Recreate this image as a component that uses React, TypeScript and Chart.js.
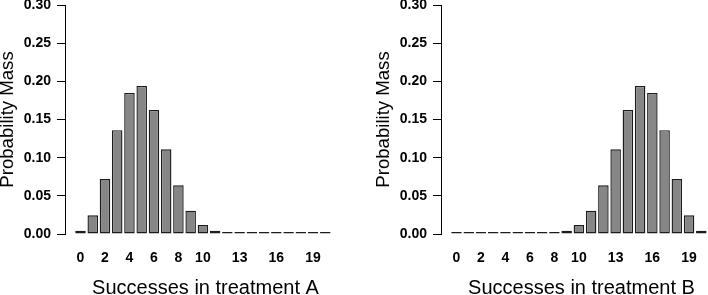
import React, { useEffect, useRef } from "react";
import { Chart, registerables } from "chart.js";

Chart.register(...registerables);

// Number of successes (0..20)
const successes = [0, 1, 2, 3, 4, 5, 6, 7, 8, 9, 10, 11, 12, 13, 14, 15, 16, 17, 18, 19, 20];

// Probability mass, treatment A
const probA = [
  0.0043, 0.0245, 0.072, 0.136, 0.1848, 0.194, 0.1625, 0.111, 0.0638, 0.0305, 0.0118,
  0.0043, 0.0012, 0.0002, 0.0001, 0.0001, 0.0001, 0.0001, 0.0001, 0.0001, 0.0001,
];

// Probability mass, treatment B
const probB = [
  0.0001, 0.0001, 0.0001, 0.0001, 0.0001, 0.0001, 0.0001, 0.0002, 0.0012, 0.0043, 0.0118,
  0.0305, 0.0638, 0.111, 0.1625, 0.194, 0.1848, 0.136, 0.072, 0.0245, 0.0043,
];

const xTickValues = [0, 2, 4, 6, 8, 10, 13, 16, 19];
const yTickValues = [0, 0.05, 0.1, 0.15, 0.2, 0.25, 0.3];

const FONT = "'Liberation Sans', Arial, Helvetica, sans-serif";
const FILL = "#868686";
const EDGE = "#1c1c1c";
const W = 376;
const H = 295;

function Panel({ values, title, left }: { values: number[]; title: string; left: number }) {
  const ref = useRef<HTMLCanvasElement>(null);
  useEffect(() => {
    const chart = new Chart(ref.current as HTMLCanvasElement, {
      type: "bar",
      data: {
        datasets: [
          {
            data: successes.map((s, i) => ({ x: s, y: values[i] })),
            backgroundColor: FILL,
            borderColor: EDGE,
            borderWidth: 1.4,
            borderSkipped: false,
            minBarLength: 2,
            barPercentage: 0.86,
            categoryPercentage: 1,
          } as any,
        ],
      },
      options: {
        animation: false,
        responsive: false,
        maintainAspectRatio: false,
        layout: { padding: { left: 0, right: 30, top: 0, bottom: 0 } },
        plugins: { legend: { display: false }, tooltip: { enabled: false } },
        scales: {
          x: {
            type: "linear",
            offset: false,
            min: -1.266,
            max: 21.69,
            grid: { display: false, drawTicks: false },
            border: { display: false },
            afterBuildTicks: (s: any) => {
              s.ticks = xTickValues.map((v) => ({ value: v }));
            },
            ticks: {
              autoSkip: false,
              maxRotation: 0,
              padding: 16,
              color: "#000",
              font: { family: FONT, size: 14, weight: "bold", lineHeight: 1.2 },
              callback: (v: any) => String(v),
            },
            title: {
              display: true,
              text: title,
              color: "#000",
              font: { family: FONT, size: 20, lineHeight: 0.7 },
              padding: 0,
            },
            afterFit: (s: any) => {
              s.height = 61;
            },
          } as any,
          y: {
            min: 0,
            max: 0.3,
            afterBuildTicks: (s: any) => {
              s.ticks = yTickValues.map((v) => ({ value: v }));
            },
            grid: { drawOnChartArea: false, drawTicks: true, tickLength: 8, color: "#000", lineWidth: 1 },
            border: { display: true, color: "#000", width: 1 },
            ticks: {
              padding: 6,
              color: "#000",
              font: { family: FONT, size: 14, weight: "bold", lineHeight: 0.7 },
              callback: (v: any) => Number(v).toFixed(2),
            },
            title: {
              display: true,
              text: "Probability Mass",
              color: "#000",
              font: { family: FONT, size: 18.6, lineHeight: 0.9 },
              padding: 0,
            },
            afterFit: (s: any) => {
              s.width = 65;
              s.paddingTop = 5;
              s.paddingBottom = 0;
            },
          } as any,
        },
      },
    });
    return () => chart.destroy();
  }, [values, title]);
  return (
    <canvas
      ref={ref}
      width={W}
      height={H}
      style={{ position: "absolute", left, top: 0, width: W, height: H }}
    />
  );
}

export default function App() {
  return (
    <div
      style={{
        position: "fixed",
        left: 0,
        top: 0,
        width: 708,
        height: 295,
        overflow: "hidden",
        background: "#fff",
      }}
    >
      <Panel values={probA} title="Successes in treatment A" left={0} />
      <Panel values={probB} title="Successes in treatment B" left={376} />
    </div>
  );
}
